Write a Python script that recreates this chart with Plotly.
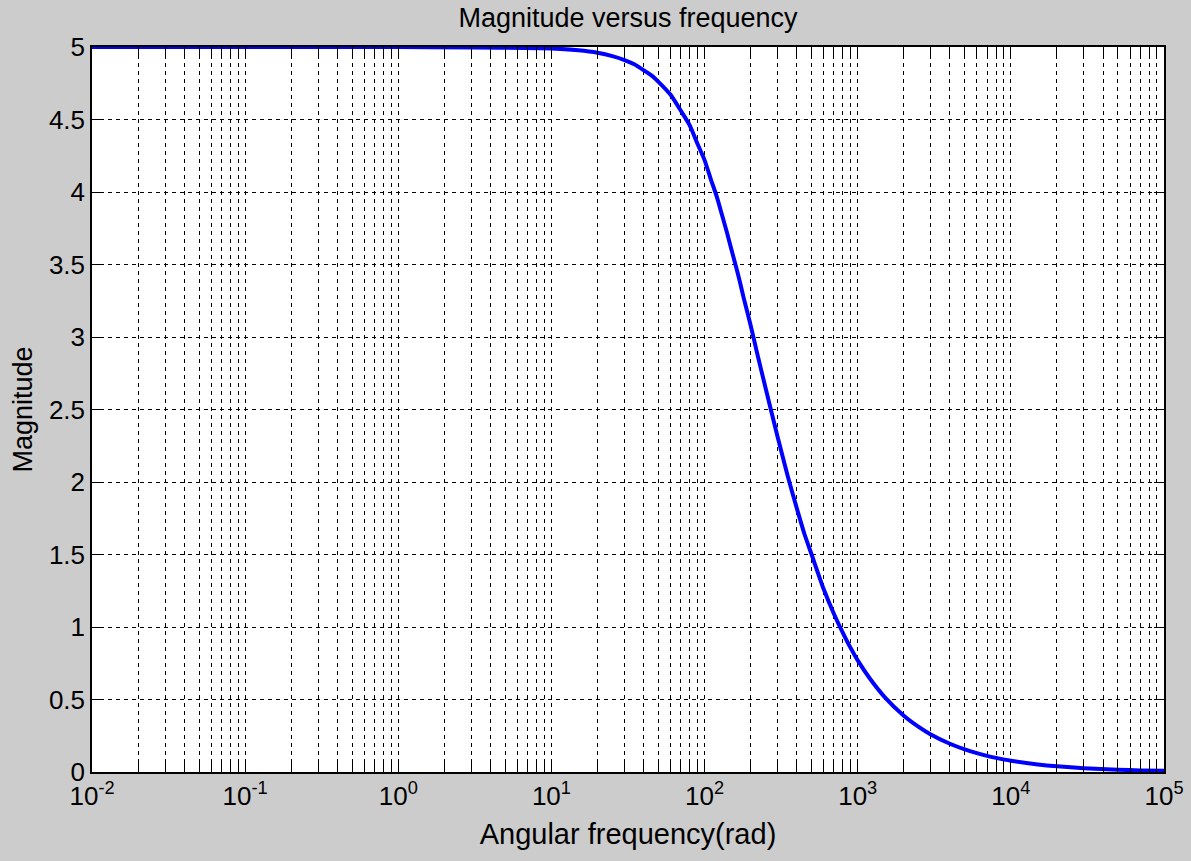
import plotly.graph_objects as go

# Angular frequency (rad) and magnitude
omega = [0.01, 0.1, 1, 10, 15, 20, 25, 30, 35, 40, 45, 50, 60, 70, 80, 90, 100,
         110, 120, 130, 140, 150, 160, 170, 180, 200, 220, 250, 300, 350, 400,
         450, 500, 600, 700, 800, 900, 1000, 1200, 1500, 2000, 2500, 3000, 4000,
         5000, 6000, 7000, 8000, 10000, 15000, 20000, 30000, 50000, 70000, 100000]
magnitude = [5.0, 5.0, 5.0, 4.99, 4.977, 4.96, 4.937, 4.91, 4.879, 4.84, 4.804,
             4.76, 4.67, 4.56, 4.46, 4.331, 4.22, 4.086, 3.97, 3.841, 3.721, 3.60,
             3.49, 3.381, 3.27, 3.08, 2.892, 2.65, 2.31, 2.036, 1.82, 1.638, 1.50,
             1.26, 1.09, 0.96, 0.854, 0.77, 0.645, 0.517, 0.388, 0.311, 0.259, 0.195,
             0.156, 0.13, 0.111, 0.0975, 0.078, 0.052, 0.039, 0.026, 0.0156, 0.0111,
             0.0078]

decades = [-2, -1, 0, 1, 2, 3, 4, 5]
y_ticks = [0, 0.5, 1, 1.5, 2, 2.5, 3, 3.5, 4, 4.5, 5]

x_tickvals, x_ticktext = [], []
for d in decades:
    for k in range(1, 10):
        if d == decades[-1] and k > 1:
            break
        x_tickvals.append(k * 10.0 ** d)
        x_ticktext.append(f"10<sup>{d}</sup>" if k == 1 else "")

FONT = "Liberation Sans, Arial, sans-serif"

fig = go.Figure()
fig.add_trace(go.Scatter(x=omega, y=magnitude, mode="lines",
                         line=dict(color="#0000ff", width=4, shape="spline",
                                   smoothing=0.6),
                         showlegend=False))

fig.update_layout(
    width=1191, height=861,
    paper_bgcolor="#cccccc", plot_bgcolor="white",
    margin=dict(l=92, r=27, t=47, b=89, autoexpand=False),
    font=dict(family=FONT, size=26, color="black"),
    title=dict(text="Magnitude versus frequency", x=628 / 1191, xanchor="center",
               y=1 - 18 / 861, yanchor="middle", yref="container",
               font=dict(size=27, family=FONT, color="black")),
)
fig.update_xaxes(type="log", range=[-2, 5], tickvals=x_tickvals, ticktext=x_ticktext,
                 showgrid=True, gridcolor="black", gridwidth=1, griddash="4px,4px",
                 showline=True, linecolor="black", linewidth=1.5, mirror="ticks",
                 ticks="inside", ticklen=10, tickcolor="black", tickwidth=1,
                 zeroline=False,
                 title=dict(text="Angular frequency(rad)", standoff=14,
                            font=dict(size=29)))
fig.update_yaxes(range=[0, 5], tickvals=y_ticks, ticktext=[f"{v:g}" for v in y_ticks],
                 showgrid=True, gridcolor="black", gridwidth=1, griddash="4px,4px",
                 showline=True, linecolor="black", linewidth=1.5, mirror="ticks",
                 ticks="inside", ticklen=10, tickcolor="black", tickwidth=1,
                 zeroline=False,
                 title=dict(text="Magnitude", standoff=8, font=dict(size=27)))

fig.write_html("out.html",
               config={"displayModeBar": False},
               post_script="document.body.style.margin='0';"
                           "document.body.style.background='#cccccc';")
